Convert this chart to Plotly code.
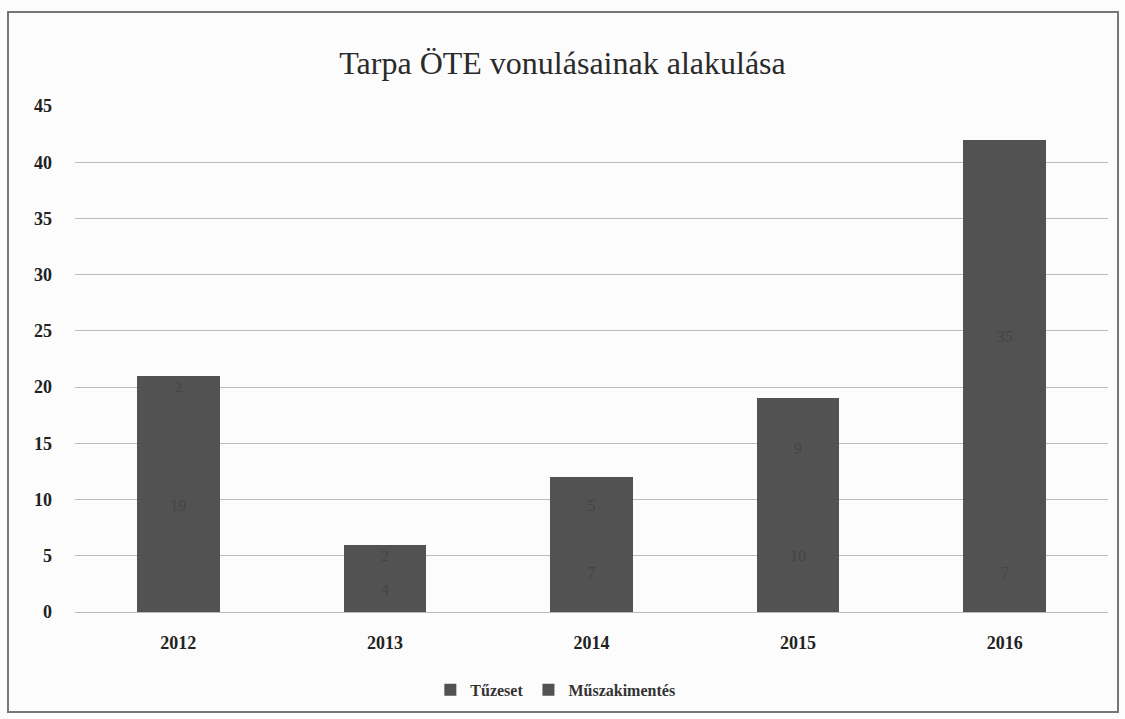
import plotly.graph_objects as go

years = ["2012", "2013", "2014", "2015", "2016"]
tuzeset = [19, 4, 7, 10, 7]
muszaki = [2, 2, 5, 9, 35]
series_names = ["Tűzeset", "Műszakimentés"]
y_ticks = [0, 5, 10, 15, 20, 25, 30, 35, 40, 45]

serif = "Liberation Serif, Times New Roman, serif"

fig = go.Figure()
for name, vals in zip(series_names, [tuzeset, muszaki]):
    fig.add_trace(go.Bar(
        x=years, y=vals, name=name,
        marker=dict(color="#525252", line=dict(color="#525252", width=0)),
        text=vals, textposition="inside", insidetextanchor="middle", textangle=0,
        textfont=dict(color="#454545", family=serif, size=16),
    ))

fig.update_layout(
    barmode="stack",
    bargap=0.6,
    width=1125, height=719,
    margin=dict(l=75, r=17, t=106, b=107),
    paper_bgcolor="#fcfcfc",
    plot_bgcolor="#fcfcfc",
    title=dict(text="Tarpa ÖTE vonulásainak alakulása", x=0.5, xanchor="center",
               y=1 - 63 / 719, yanchor="middle",
               font=dict(family=serif, size=32, color="#2a2a2a")),
    font=dict(family=serif, color="#2a2a2a"),
    xaxis=dict(showgrid=False, showline=True, linecolor="#bbbbbb", linewidth=1,
               tickfont=dict(family=serif, size=18, color="#222222", weight="bold"),
               ticks="", ticklabelstandoff=14),
    yaxis=dict(range=[0, 45], tickvals=y_ticks, showgrid=True, gridcolor="#bdbdbd",
               gridwidth=1, zeroline=False, showline=False,
               tickfont=dict(family=serif, size=18, color="#222222", weight="bold"),
               ticklabelstandoff=22),
    legend=dict(orientation="h", x=0.465, xanchor="center", y=-0.154, yanchor="middle",
                font=dict(family=serif, size=16, color="#333333", weight="bold"),
                bgcolor="rgba(0,0,0,0)", traceorder="normal"),
    showlegend=True,
)

fig.add_shape(type="rect", xref="paper", yref="paper",
              x0=(8 - 75) / 1033, x1=(1118 - 75) / 1033,
              y0=(612 - 712) / 506, y1=(612 - 12) / 506,
              line=dict(color="#777777", width=2), fillcolor="rgba(0,0,0,0)", layer="below")

fig.write_html("out.html", post_script="document.body.style.margin='0';",
               config={"displayModeBar": False})
